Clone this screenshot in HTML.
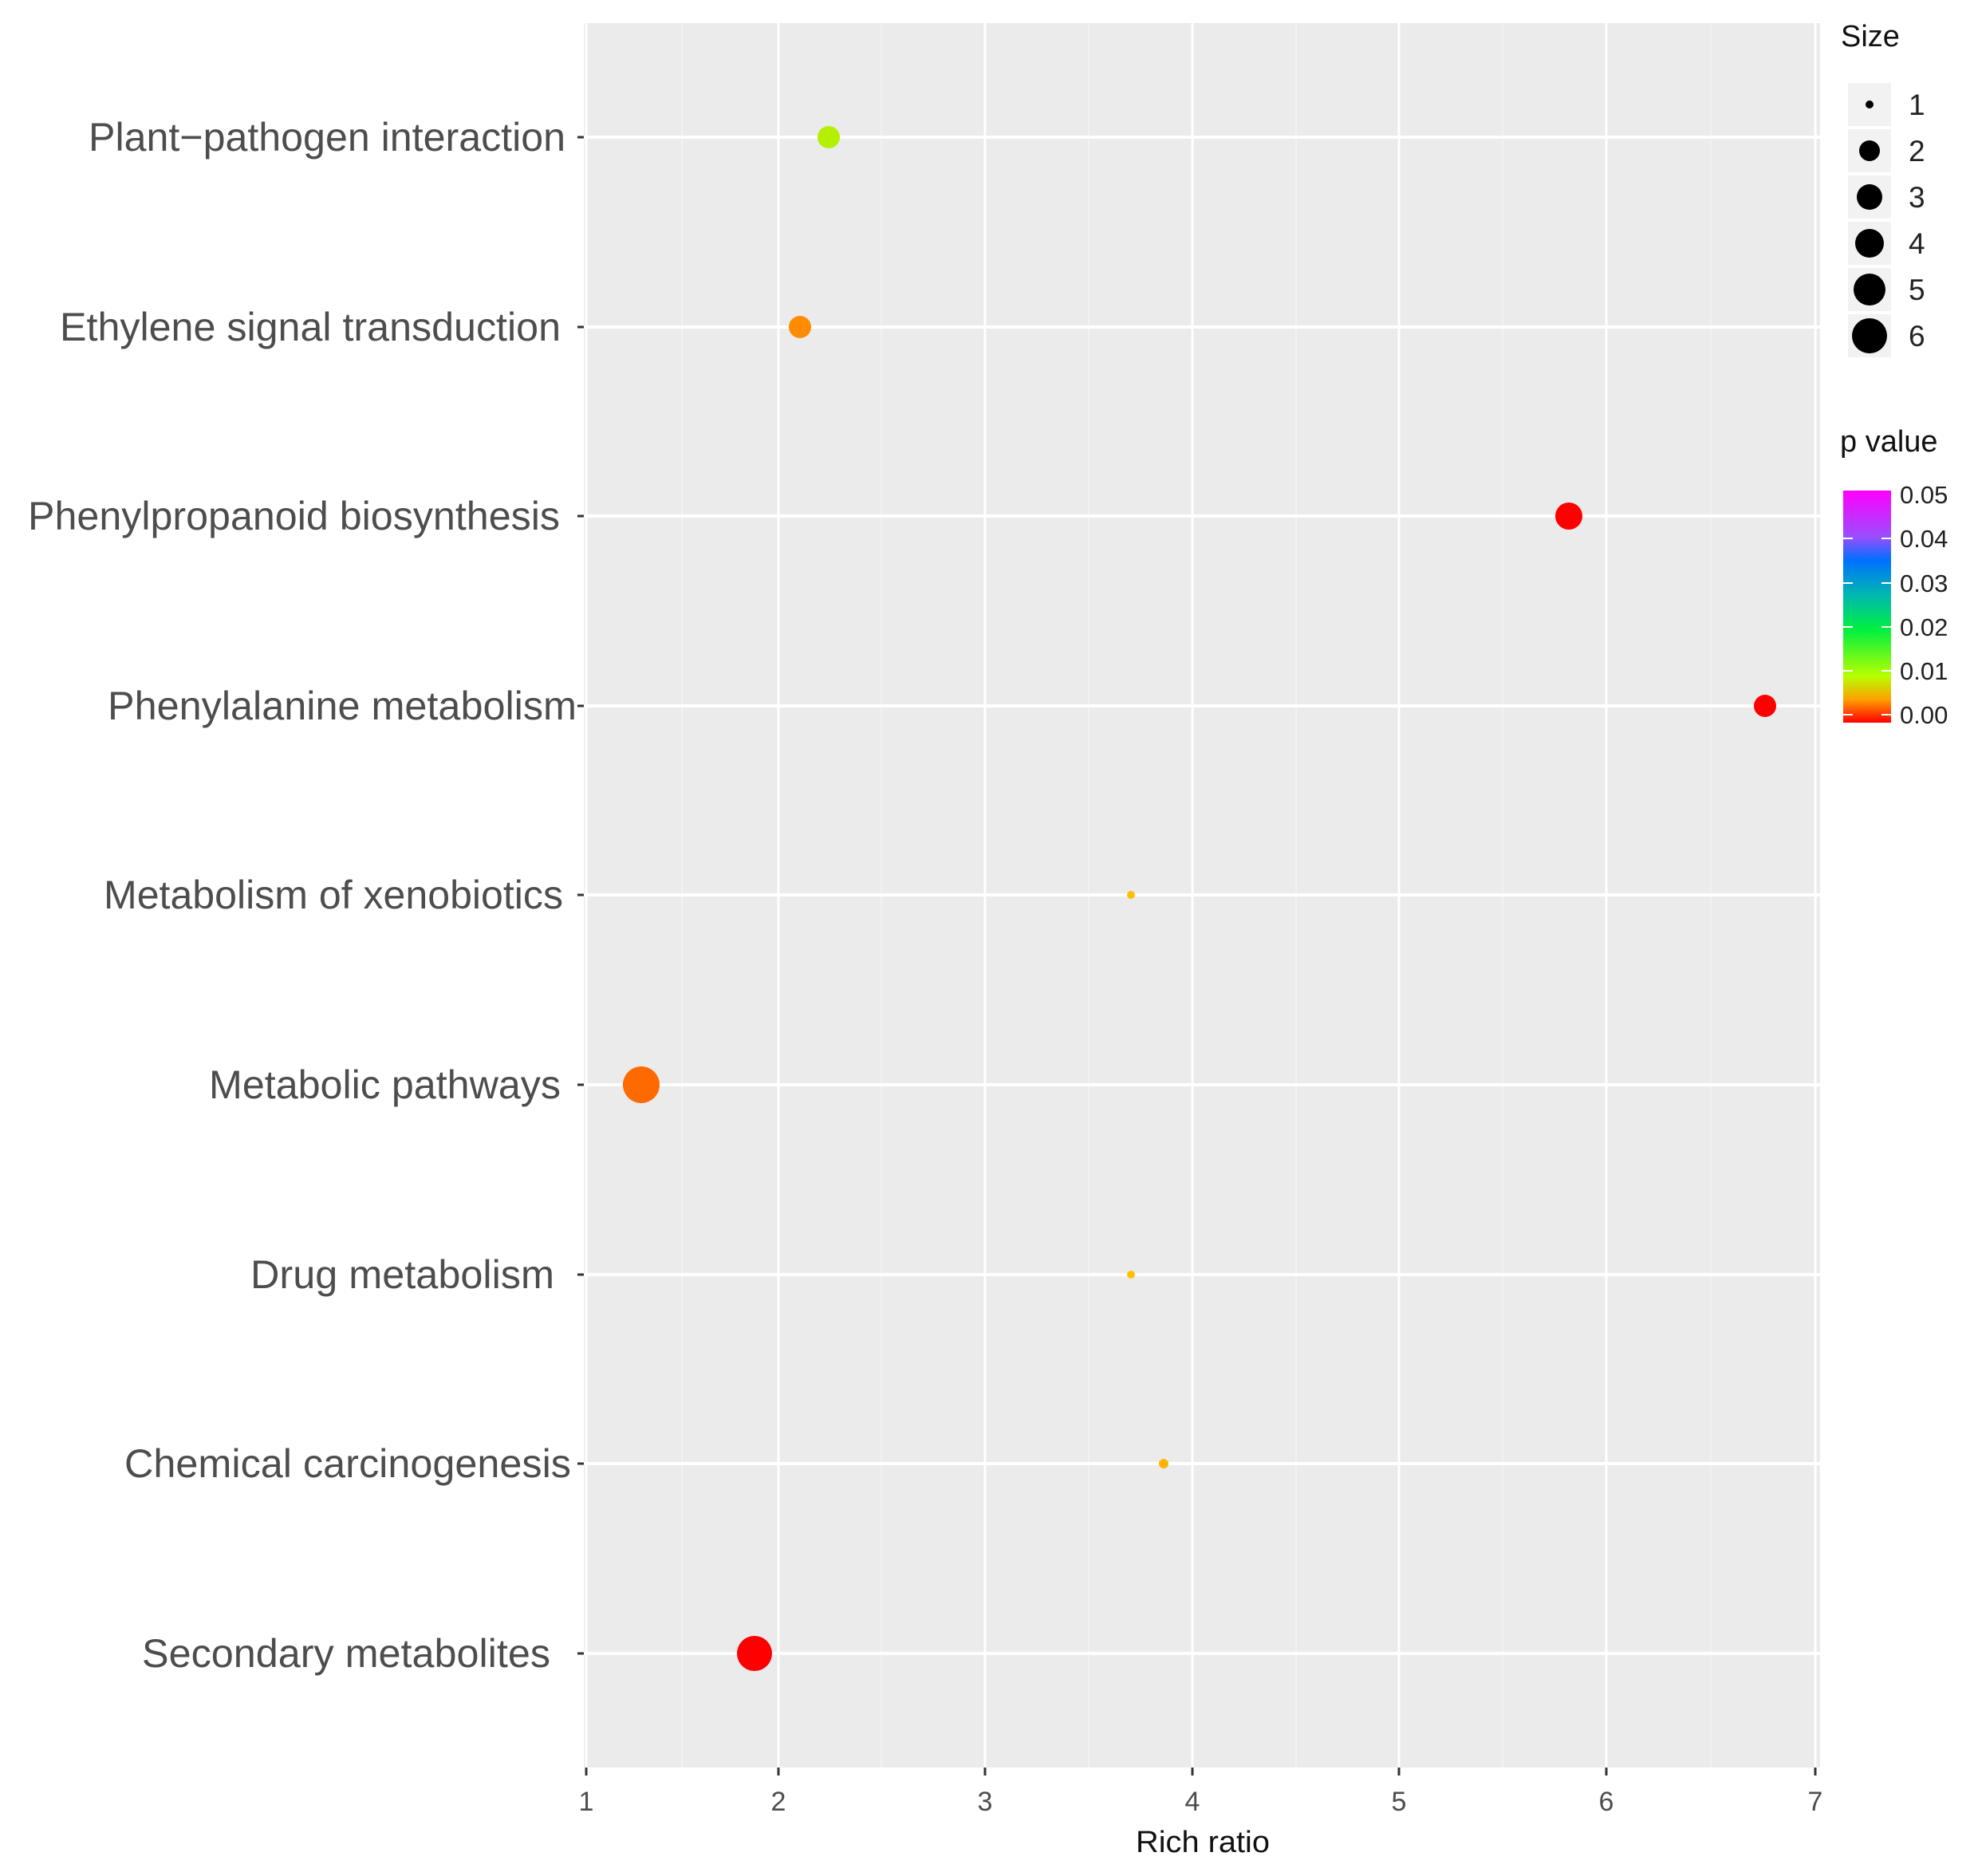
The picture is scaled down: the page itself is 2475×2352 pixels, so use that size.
<!DOCTYPE html>
<html><head><style>html,body{margin:0;padding:0;background:#fff}svg{display:block}</style></head>
<body>
<svg width="2475" height="2352" viewBox="0 0 2475 2352" xmlns="http://www.w3.org/2000/svg" font-family="'Liberation Sans', sans-serif">
<defs>
<linearGradient id="pg" x1="0" y1="0" x2="0" y2="1">
<stop offset="0" stop-color="#ff00ff"/>
<stop offset="0.2" stop-color="#9a4dff"/>
<stop offset="0.3" stop-color="#0070ff"/>
<stop offset="0.45" stop-color="#00b8b0"/>
<stop offset="0.6" stop-color="#00f040"/>
<stop offset="0.8" stop-color="#b8ff00"/>
<stop offset="0.9" stop-color="#ffa000"/>
<stop offset="1" stop-color="#ff0000"/>
</linearGradient>
</defs>
<rect x="732" y="29" width="1550" height="2187" fill="#ebebeb"/>
<g stroke="#f4f4f4" stroke-width="1.5">
<line x1="855" y1="29" x2="855" y2="2216"/><line x1="1105" y1="29" x2="1105" y2="2216"/>
<line x1="1365" y1="29" x2="1365" y2="2216"/><line x1="1625" y1="29" x2="1625" y2="2216"/>
<line x1="1884" y1="29" x2="1884" y2="2216"/><line x1="2145" y1="29" x2="2145" y2="2216"/>
</g>
<g stroke="#fff" stroke-width="3">
<line x1="735" y1="29" x2="735" y2="2216"/><line x1="976" y1="29" x2="976" y2="2216"/>
<line x1="1235" y1="29" x2="1235" y2="2216"/><line x1="1495" y1="29" x2="1495" y2="2216"/>
<line x1="1754" y1="29" x2="1754" y2="2216"/><line x1="2014" y1="29" x2="2014" y2="2216"/>
<line x1="2276" y1="29" x2="2276" y2="2216"/>
</g>
<g stroke="#fff" stroke-width="4">
<line x1="732" y1="172" x2="2282" y2="172"/><line x1="732" y1="410" x2="2282" y2="410"/>
<line x1="732" y1="647" x2="2282" y2="647"/><line x1="732" y1="885" x2="2282" y2="885"/>
<line x1="732" y1="1122" x2="2282" y2="1122"/><line x1="732" y1="1360" x2="2282" y2="1360"/>
<line x1="732" y1="1598" x2="2282" y2="1598"/><line x1="732" y1="1835" x2="2282" y2="1835"/>
<line x1="732" y1="2073" x2="2282" y2="2073"/>
</g>
<g stroke="#333" stroke-width="3">
<line x1="724" y1="172" x2="732" y2="172"/><line x1="724" y1="410" x2="732" y2="410"/>
<line x1="724" y1="647" x2="732" y2="647"/><line x1="724" y1="885" x2="732" y2="885"/>
<line x1="724" y1="1122" x2="732" y2="1122"/><line x1="724" y1="1360" x2="732" y2="1360"/>
<line x1="724" y1="1598" x2="732" y2="1598"/><line x1="724" y1="1835" x2="732" y2="1835"/>
<line x1="724" y1="2073" x2="732" y2="2073"/>
<line x1="735" y1="2216" x2="735" y2="2226"/><line x1="976" y1="2216" x2="976" y2="2226"/>
<line x1="1235" y1="2216" x2="1235" y2="2226"/><line x1="1495" y1="2216" x2="1495" y2="2226"/>
<line x1="1754" y1="2216" x2="1754" y2="2226"/><line x1="2014" y1="2216" x2="2014" y2="2226"/>
<line x1="2276" y1="2216" x2="2276" y2="2226"/>
</g>
<g fill="#4d4d4d" font-size="50">
<text x="111" y="189" textLength="598" lengthAdjust="spacingAndGlyphs">Plant−pathogen interaction</text>
<text x="75" y="427" textLength="628" lengthAdjust="spacingAndGlyphs">Ethylene signal transduction</text>
<text x="35" y="664" textLength="667" lengthAdjust="spacingAndGlyphs">Phenylpropanoid biosynthesis</text>
<text x="135" y="902" textLength="588" lengthAdjust="spacingAndGlyphs">Phenylalanine metabolism</text>
<text x="130" y="1139" textLength="576" lengthAdjust="spacingAndGlyphs">Metabolism of xenobiotics</text>
<text x="262" y="1377" textLength="441" lengthAdjust="spacingAndGlyphs">Metabolic pathways</text>
<text x="314" y="1615" textLength="381" lengthAdjust="spacingAndGlyphs">Drug metabolism</text>
<text x="156" y="1852" textLength="560" lengthAdjust="spacingAndGlyphs">Chemical carcinogenesis</text>
<text x="178" y="2090" textLength="512" lengthAdjust="spacingAndGlyphs">Secondary metabolites</text>
</g>
<g fill="#4d4d4d" font-size="34" text-anchor="middle">
<text x="735" y="2270">1</text><text x="976" y="2270">2</text><text x="1235" y="2270">3</text>
<text x="1495" y="2270">4</text><text x="1754" y="2270">5</text><text x="2014" y="2270">6</text>
<text x="2276" y="2270">7</text>
</g>
<text x="1508" y="2322" font-size="38" text-anchor="middle" fill="#111" textLength="168" lengthAdjust="spacingAndGlyphs">Rich ratio</text>
<circle cx="1039" cy="172" r="14" fill="#b4f000"/>
<circle cx="1003" cy="410" r="14" fill="#ff8c00"/>
<circle cx="1967" cy="647" r="17" fill="#ff0000"/>
<circle cx="2213" cy="885" r="14" fill="#ff0000"/>
<circle cx="1418" cy="1122" r="5" fill="#ffc000"/>
<circle cx="804" cy="1360" r="23" fill="#ff6a00"/>
<circle cx="1418" cy="1598" r="5" fill="#ffc000"/>
<circle cx="1459" cy="1835" r="6" fill="#ffb400"/>
<circle cx="946" cy="2073" r="22" fill="#ff0000"/>
<text x="2308" y="58" font-size="38" fill="#111">Size</text>
<g fill="#f2f2f2">
<rect x="2317" y="104" width="54" height="54"/><rect x="2317" y="162" width="54" height="54"/>
<rect x="2317" y="220" width="54" height="54"/><rect x="2317" y="278" width="54" height="54"/>
<rect x="2317" y="336" width="54" height="54"/><rect x="2317" y="394" width="54" height="54"/>
</g>
<g fill="#000">
<circle cx="2344" cy="131" r="5"/><circle cx="2344" cy="189" r="13"/>
<circle cx="2344" cy="247" r="16"/><circle cx="2344" cy="305" r="18"/>
<circle cx="2344" cy="363" r="20"/><circle cx="2344" cy="421" r="22"/>
</g>
<g fill="#222" font-size="37">
<text x="2393" y="144">1</text><text x="2393" y="202">2</text><text x="2393" y="260">3</text>
<text x="2393" y="318">4</text><text x="2393" y="376">5</text><text x="2393" y="434">6</text>
</g>
<text x="2307" y="566" font-size="38" fill="#111">p value</text>
<rect x="2311" y="615" width="60" height="291" fill="url(#pg)"/>
<g stroke="#fff" stroke-width="2">
<line x1="2311" y1="675" x2="2323" y2="675"/><line x1="2359" y1="675" x2="2371" y2="675"/>
<line x1="2311" y1="731" x2="2323" y2="731"/><line x1="2359" y1="731" x2="2371" y2="731"/>
<line x1="2311" y1="786" x2="2323" y2="786"/><line x1="2359" y1="786" x2="2371" y2="786"/>
<line x1="2311" y1="841" x2="2323" y2="841"/><line x1="2359" y1="841" x2="2371" y2="841"/>
<line x1="2311" y1="896" x2="2323" y2="896"/><line x1="2359" y1="896" x2="2371" y2="896"/>
</g>
<g fill="#222" font-size="31">
<text x="2382" y="631">0.05</text><text x="2382" y="686">0.04</text><text x="2382" y="742">0.03</text>
<text x="2382" y="797">0.02</text><text x="2382" y="852">0.01</text><text x="2382" y="907">0.00</text>
</g>
</svg>
</body></html>
